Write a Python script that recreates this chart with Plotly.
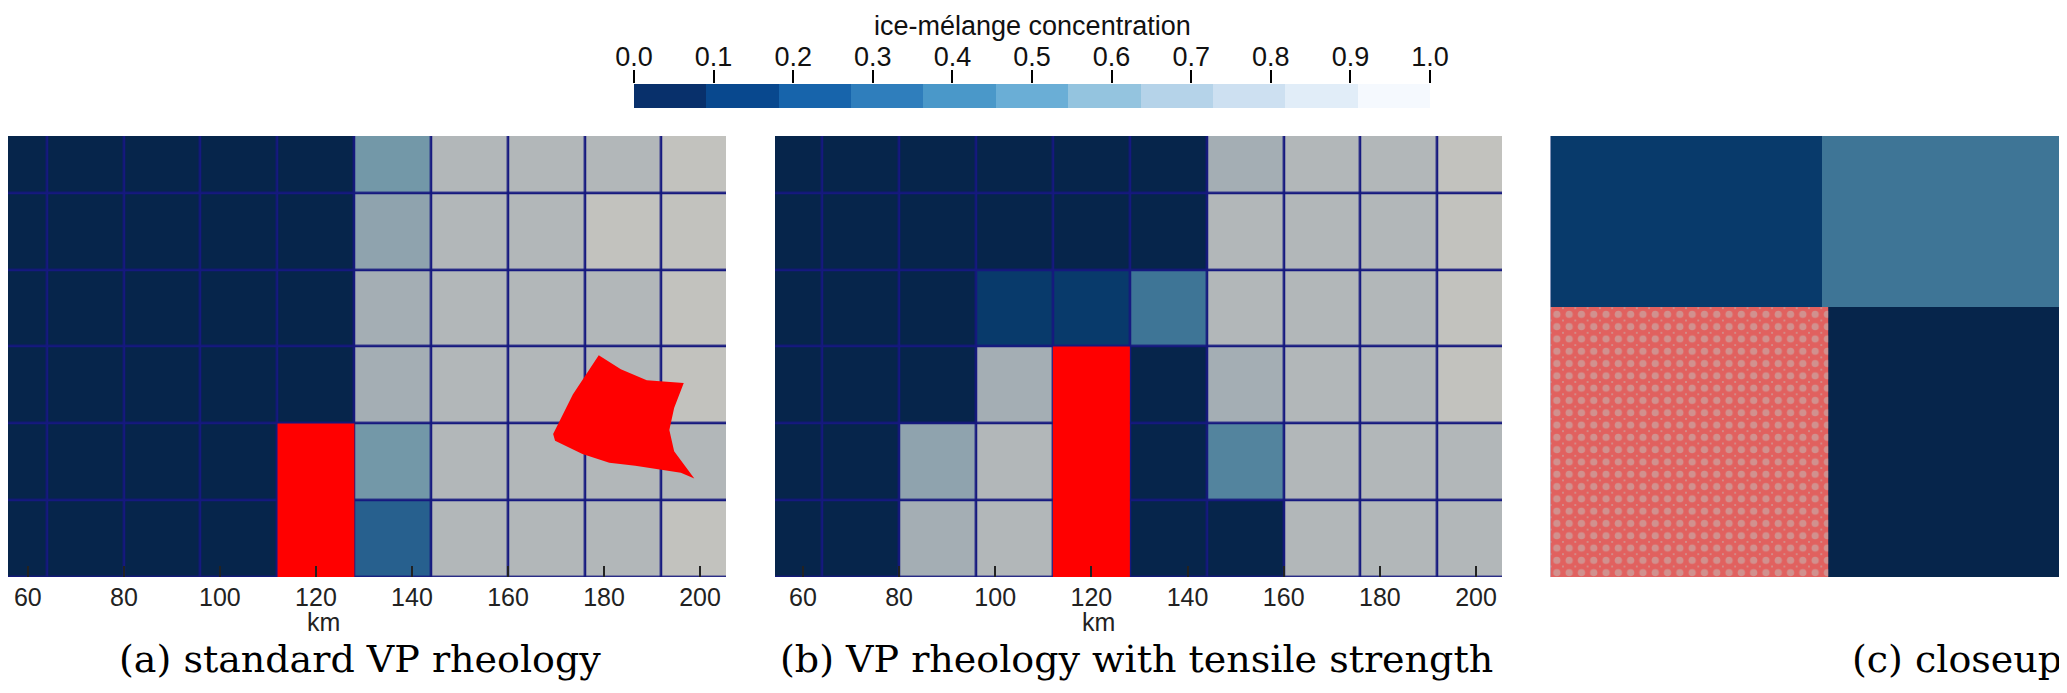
import plotly.graph_objects as go

# grid cell centres in km (cells are 16 km wide)
x_km = [56, 72, 88, 104, 120, 136, 152, 168, 184, 200]
y_km = [8, 24, 40, 56, 72, 88]

# ice-melange concentration per cell, bottom row first
conc_a = [
    [0, 0, 0, 0, 1.0, 0.3, 0.9, 0.9, 0.9, 1.0],
    [0, 0, 0, 0, 1.0, 0.6, 0.9, 0.9, 0.9, 0.9],
    [0, 0, 0, 0, 0.0, 0.8, 0.9, 0.9, 0.9, 1.0],
    [0, 0, 0, 0, 0.0, 0.8, 0.9, 0.9, 0.9, 1.0],
    [0, 0, 0, 0, 0.0, 0.7, 0.9, 0.9, 1.0, 1.0],
    [0, 0, 0, 0, 0.0, 0.6, 0.9, 0.9, 0.9, 1.0],
]
conc_b = [
    [0, 0, 0.8, 0.9, 1.0, 0.0, 0.0, 0.9, 0.9, 0.9],
    [0, 0, 0.7, 0.9, 1.0, 0.0, 0.5, 0.9, 0.9, 0.9],
    [0, 0, 0.0, 0.8, 1.0, 0.0, 0.8, 0.9, 0.9, 1.0],
    [0, 0, 0.0, 0.1, 0.1, 0.4, 0.9, 0.9, 0.9, 1.0],
    [0, 0, 0.0, 0.0, 0.0, 0.0, 0.9, 0.9, 0.9, 1.0],
    [0, 0, 0.0, 0.0, 0.0, 0.0, 0.8, 0.9, 0.9, 1.0],
]

# rendered cell colours (shaded) by concentration
cell_levels = [0.0, 0.1, 0.3, 0.4, 0.5, 0.6, 0.7, 0.8, 0.9, 1.0]
cell_colors = ['#06254b', '#083a6b', '#27608e', '#3e7596', '#53849e',
               '#7398a8', '#8fa3ae', '#a4aeb4', '#b2b7b9', '#c2c2be']
cell_scale = [[v, c] for v, c in zip(cell_levels, cell_colors)]

# colour bar: 11 discrete bands
band_index = list(range(11))
band_colors = ['#08306b', '#08488e', '#1764ab', '#2f7ebc', '#4a98c9', '#6aaed6',
               '#94c4df', '#b5d3e9', '#cde0f1', '#e1edf8', '#f5f9fe']
bar_ticks = [0.0, 0.1, 0.2, 0.3, 0.4, 0.5, 0.6, 0.7, 0.8, 0.9, 1.0]
bar_title = 'ice-mélange concentration'

# particle blocks (km)
block_a_x = [112, 128, 128, 112, 112]
block_a_y = [0, 0, 32, 32, 0]
block_b_x = [112, 128, 128, 112, 112]
block_b_y = [0, 0, 48, 48, 0]
closeup_x = [100, 128.1, 128.1, 100, 100]
closeup_y = [30, 30, 48, 48, 30]

# drifting floe in panel (a)
floe_x = [169.4, 173.5, 178.9, 183.5, 188.9, 196.6, 194.6, 193.6, 194.6, 197.2,
          198.8, 196.0, 192.5, 186.5, 181.1, 175.5, 169.8]
floe_y = [29.8, 38.0, 46.2, 43.3, 41.0, 40.4, 35.2, 30.6, 26.2, 22.6,
          20.5, 21.7, 22.3, 23.2, 23.8, 25.6, 28.4]

captions = ['(a) standard VP rheology', '(b) VP rheology with tensile strength', '(c) closeup']

W, H = 2067, 693
OFF = 8  # page body margin shifts the figure by this many px
sans = 'Liberation Sans, Arial, sans-serif'
serif = 'DejaVu Serif, serif'


def fx(px):
    return (px - OFF) / W


def fy(px):
    return 1 - (px - OFF) / H


fig = go.Figure()

fig.add_trace(go.Heatmap(x=x_km, y=y_km, z=conc_a, zmin=0, zmax=1, colorscale=cell_scale,
                         showscale=False, xgap=2.5, ygap=2.5, xaxis='x', yaxis='y'))
fig.add_trace(go.Heatmap(x=x_km, y=y_km, z=conc_b, zmin=0, zmax=1, colorscale=cell_scale,
                         showscale=False, xgap=2.5, ygap=2.5, xaxis='x2', yaxis='y2'))
fig.add_trace(go.Heatmap(x=x_km, y=y_km, z=conc_b, zmin=0, zmax=1, colorscale=cell_scale,
                         showscale=False, xaxis='x3', yaxis='y3'))

red = dict(mode='lines', fill='toself', fillcolor='#ff0000',
           line=dict(width=0, color='#ff0000'), hoverinfo='skip', showlegend=False)
fig.add_trace(go.Scatter(x=block_a_x, y=block_a_y, xaxis='x', yaxis='y', **red))
fig.add_trace(go.Scatter(x=floe_x + floe_x[:1], y=floe_y + floe_y[:1], xaxis='x', yaxis='y', **red))
fig.add_trace(go.Scatter(x=block_b_x, y=block_b_y, xaxis='x2', yaxis='y2', **red))

# closeup: ring-shaped particles
fig.add_trace(go.Scatter(x=closeup_x, y=closeup_y, xaxis='x3', yaxis='y3', mode='lines',
                         fill='toself', line=dict(width=0), showlegend=False,
                         fillpattern=dict(shape='.', size=12.3, solidity=0.95,
                                          fgcolor='#ff0000', bgcolor='#c2c2be')))
fig.add_trace(go.Scatter(x=closeup_x, y=closeup_y, xaxis='x3', yaxis='y3', mode='lines',
                         fill='toself', fillcolor='rgba(0,0,0,0)', line=dict(width=0),
                         showlegend=False,
                         fillpattern=dict(shape='.', size=12.3, solidity=0.27,
                                          fgcolor='#c2c2be', bgcolor='rgba(0,0,0,0)')))

# colour bar drawn as its own strip
fig.add_trace(go.Heatmap(z=[band_index], x0=0.5 / 11, dx=1 / 11, y0=0.5, dy=1,
                         zmin=0, zmax=10, colorscale=band_colors, showscale=False,
                         xaxis='x4', yaxis='y4'))

ydom = [fy(577), fy(136)]
km_per_px = 1 / 4.8
xa = dict(tickvals=[60, 80, 100, 120, 140, 160, 180, 200],
          ticks='inside', ticklen=11, tickwidth=1.5, tickcolor='#222222',
          tickfont=dict(family=sans, size=25, color='#222222'), ticklabelstandoff=3,
          showgrid=False, zeroline=False, showline=False, automargin=False)
ya = dict(range=[0, 441 * km_per_px], domain=ydom, visible=False, showgrid=False,
          zeroline=False, automargin=False)

fig.update_layout(
    width=W, height=H, margin=dict(l=0, r=0, t=0, b=0, pad=0, autoexpand=False),
    paper_bgcolor='white', plot_bgcolor='#16197f', showlegend=False,
    xaxis=dict(xa, domain=[0, fx(726)], range=[54.2 + OFF * km_per_px, 205.4], anchor='y'),
    yaxis=dict(ya, anchor='x'),
    xaxis2=dict(xa, domain=[fx(775), fx(1502)], range=[54.2, 205.4], anchor='y2'),
    yaxis2=dict(ya, anchor='x2'),
    xaxis3=dict(range=[123.8, 131.8], domain=[fx(1550.7), fx(2067)], anchor='y3',
                visible=False),
    yaxis3=dict(range=[43.86, 50.62], domain=ydom, anchor='x3', visible=False),
    xaxis4=dict(range=[0, 1], domain=[fx(634), fx(1430)], anchor='y4', side='top',
                tickvals=bar_ticks, tickformat='.1f', ticks='outside', ticklen=13,
                tickwidth=1.5, tickcolor='black', ticklabelstandoff=-7,
                tickfont=dict(family=sans, size=27, color='#111111'),
                showgrid=False, zeroline=False, showline=False, automargin=False),
    yaxis4=dict(range=[0, 1], domain=[fy(108), fy(84)], anchor='x4', visible=False),
)

# colour bar title sits above the tick labels
fig.add_annotation(text=bar_title, x=0.5, xref='x4 domain', y=fy(26), yref='paper',
                   xanchor='center', yanchor='middle', showarrow=False,
                   font=dict(family=sans, size=27, color='#111111'))

for xr in ['x', 'x2']:
    fig.add_annotation(text='km', x=121.5, xref=xr, y=fy(622), yref='paper',
                       yanchor='middle', showarrow=False,
                       font=dict(family=sans, size=25, color='#222222'))

cap_x = [fx(360), fx(1136), fx(1957)]
for t, cx in zip(captions, cap_x):
    fig.add_annotation(text=t, x=cx, xref='paper', y=fy(659), yref='paper',
                       xanchor='center', yanchor='middle', showarrow=False,
                       font=dict(family=serif, size=38, color='black'))

fig.write_html("out.html")
